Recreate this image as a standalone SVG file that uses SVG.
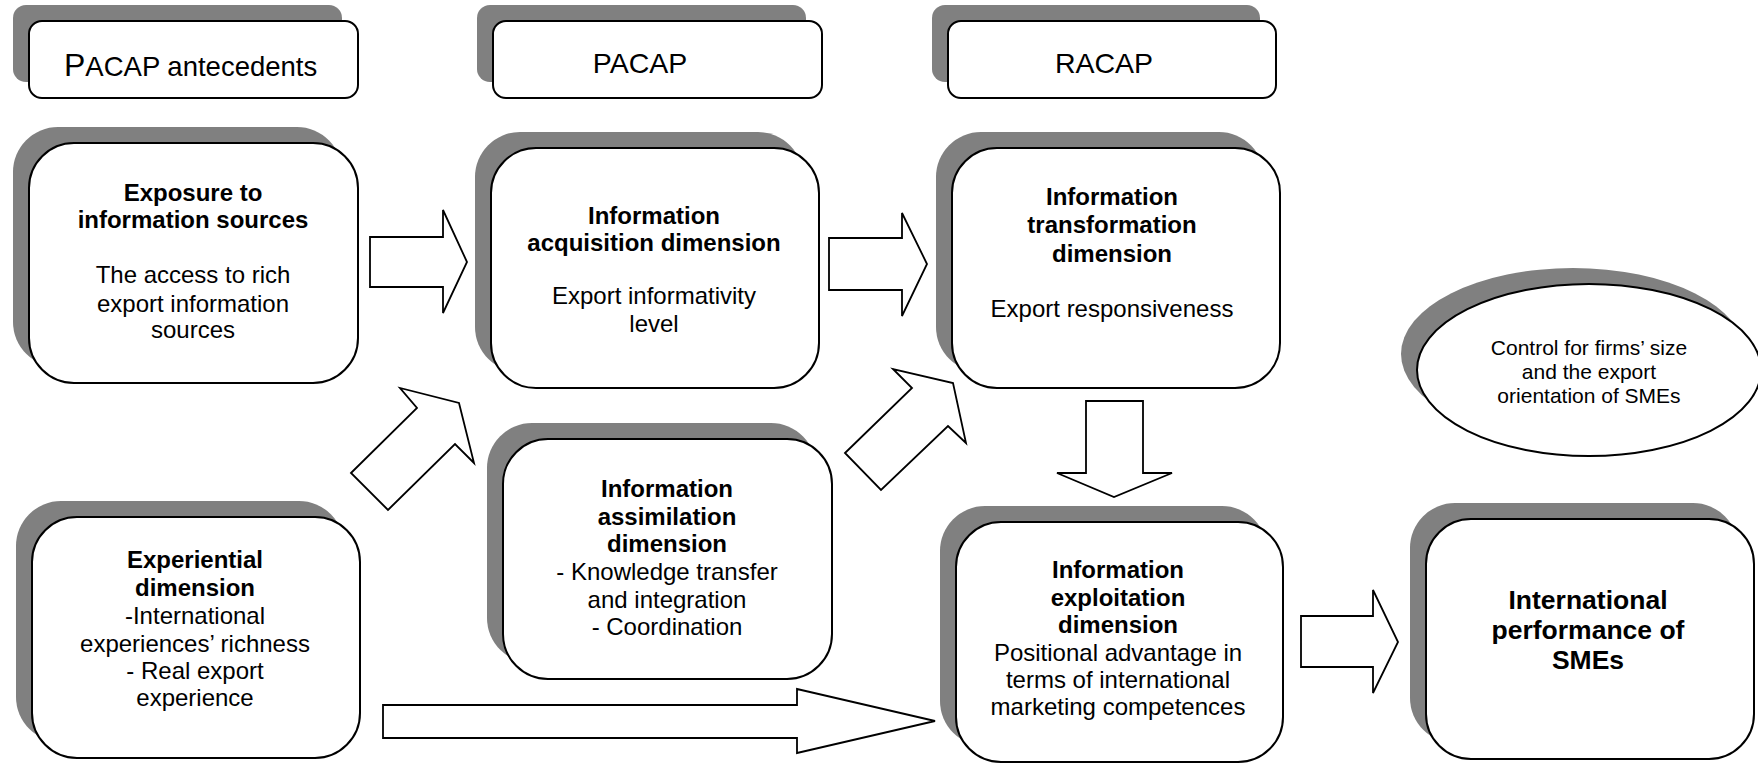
<svg xmlns="http://www.w3.org/2000/svg" width="1758" height="763" viewBox="0 0 1758 763">
<style>
.sh{fill:#808080;stroke:none}
.bx{fill:#ffffff;stroke:#000000;stroke-width:2}
.ar{fill:#ffffff;stroke:#000000;stroke-width:1.8;stroke-linejoin:miter}
text{font-family:"Liberation Sans",Arial,Helvetica,sans-serif;fill:#000000;text-anchor:middle}
.b{font-weight:bold;font-size:24px}
.r{font-size:24px}
.hd{font-size:28.5px}
.pf{font-weight:bold;font-size:26.5px}
.el{font-size:21px}
</style>
<rect width="1758" height="763" fill="#ffffff"/>

<g id="hdr-pacap-antecedents">
<rect class="sh" x="13" y="5" width="329" height="77" rx="13"/>
<rect class="bx" x="29" y="21" width="329" height="77" rx="13"/>
<text x="64" y="76" style="text-anchor:start"><tspan font-size="32">P</tspan><tspan font-size="27.5">ACAP antecedents</tspan></text>
</g>

<g id="hdr-pacap">
<rect class="sh" x="477" y="5" width="329" height="77" rx="13"/>
<rect class="bx" x="493" y="21" width="329" height="77" rx="13"/>
<text class="hd" x="640" y="73">PACAP</text>
</g>

<g id="hdr-racap">
<rect class="sh" x="932" y="5" width="328" height="77" rx="13"/>
<rect class="bx" x="948" y="21" width="328" height="77" rx="13"/>
<text class="hd" x="1104" y="73">RACAP</text>
</g>

<g id="node-exposure">
<rect class="sh" x="13" y="127" width="329" height="240" rx="45"/>
<rect class="bx" x="29" y="143" width="329" height="240" rx="45"/>
<text class="b" x="193" y="201">Exposure to</text>
<text class="b" x="193" y="228">information sources</text>
<text class="r" x="193" y="283">The access to rich</text>
<text class="r" x="193" y="312">export information</text>
<text class="r" x="193" y="338">sources</text>
</g>

<g id="node-acquisition">
<rect class="sh" x="475" y="132" width="328" height="240" rx="45"/>
<rect class="bx" x="491" y="148" width="328" height="240" rx="45"/>
<text class="b" x="654" y="224">Information</text>
<text class="b" x="654" y="251">acquisition dimension</text>
<text class="r" x="654" y="304">Export informativity</text>
<text class="r" x="654" y="332">level</text>
</g>

<g id="node-transformation">
<rect class="sh" x="936" y="132" width="328" height="240" rx="45"/>
<rect class="bx" x="952" y="148" width="328" height="240" rx="45"/>
<text class="b" x="1112" y="205">Information</text>
<text class="b" x="1112" y="233">transformation</text>
<text class="b" x="1112" y="262">dimension</text>
<text class="r" x="1112" y="317">Export responsiveness</text>
</g>

<g id="node-control">
<ellipse class="sh" cx="1573" cy="354" rx="172" ry="86"/>
<ellipse class="bx" cx="1589" cy="370" rx="172" ry="86"/>
<text class="el" x="1589" y="355">Control for firms’ size</text>
<text class="el" x="1589" y="379">and the export</text>
<text class="el" x="1589" y="403">orientation of SMEs</text>
</g>

<g id="node-assimilation">
<rect class="sh" x="487" y="423" width="329" height="240" rx="45"/>
<rect class="bx" x="503" y="439" width="329" height="240" rx="45"/>
<text class="b" x="667" y="497">Information</text>
<text class="b" x="667" y="525">assimilation</text>
<text class="b" x="667" y="552">dimension</text>
<text class="r" x="667" y="580">- Knowledge transfer</text>
<text class="r" x="667" y="608">and integration</text>
<text class="r" x="667" y="635">- Coordination</text>
</g>

<g id="node-experiential">
<rect class="sh" x="16" y="501" width="328" height="241" rx="45"/>
<rect class="bx" x="32" y="517" width="328" height="241" rx="45"/>
<text class="b" x="195" y="568">Experiential</text>
<text class="b" x="195" y="596">dimension</text>
<text class="r" x="195" y="624">-International</text>
<text class="r" x="195" y="652">experiences’ richness</text>
<text class="r" x="195" y="679">- Real export</text>
<text class="r" x="195" y="706">experience</text>
</g>

<g id="node-exploitation">
<rect class="sh" x="940" y="506" width="327" height="240" rx="45"/>
<rect class="bx" x="956" y="522" width="327" height="240" rx="45"/>
<text class="b" x="1118" y="578">Information</text>
<text class="b" x="1118" y="606">exploitation</text>
<text class="b" x="1118" y="633">dimension</text>
<text class="r" x="1118" y="661">Positional advantage in</text>
<text class="r" x="1118" y="688">terms of international</text>
<text class="r" x="1118" y="715">marketing competences</text>
</g>

<g id="node-performance">
<rect class="sh" x="1410" y="503" width="328" height="240" rx="45"/>
<rect class="bx" x="1426" y="519" width="328" height="240" rx="45"/>
<text class="pf" x="1588" y="609">International</text>
<text class="pf" x="1588" y="639">performance of</text>
<text class="pf" x="1588" y="669">SMEs</text>
</g>

<g id="connectors">
<polygon class="ar" points="370,237 443,237 443,210 467,262 443,313 443,287 370,287"/>
<polygon class="ar" points="829,238 902,238 902,213 927,264 902,316 902,290 829,290"/>
<polygon class="ar" points="351,473 417,408 400,388 459,403 474,463 455,444 388,510"/>
<polygon class="ar" points="845,453 912,388 893,369 953,383 966,443 948,426 881,490"/>
<polygon class="ar" points="1086,401 1143,401 1143,473 1172,473 1114,497 1057,473 1086,473"/>
<polygon class="ar" points="383,705 797,705 797,689 935,721 797,753 797,738 383,738"/>
<polygon class="ar" points="1301,616 1373,616 1373,590 1398,642 1373,693 1373,667 1301,667"/>
</g>
</svg>
